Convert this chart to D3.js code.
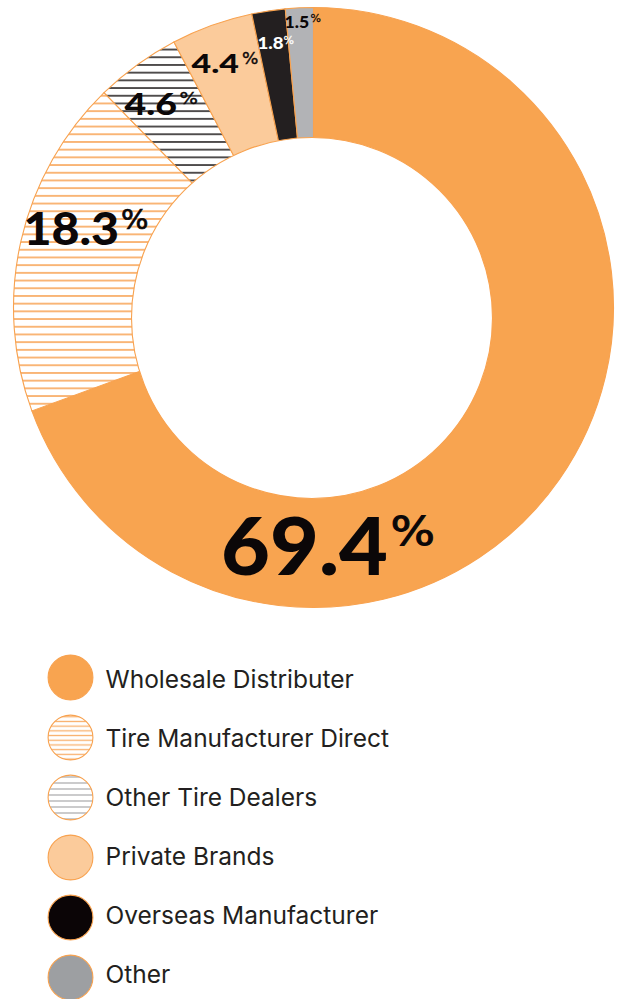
<!DOCTYPE html>
<html>
<head>
<meta charset="utf-8">
<script src="https://cdn.jsdelivr.net/npm/d3@7"></script>
<style>
  html, body { margin: 0; padding: 0; background: #fff; }
  svg { display: block; }
</style>
</head>
<body>
<svg id="chart" width="620" height="999"></svg>
<script>
// ---- data ----
const categories = ["Wholesale Distributer", "Tire Manufacturer Direct", "Other Tire Dealers", "Private Brands", "Overseas Manufacturer", "Other"];
const shares = [69.4, 18.3, 4.6, 4.4, 1.8, 1.5];
const valueLabels = ["69.4", "18.3", "4.6", "4.4", "1.8", "1.5"];

// ---- layout / style (not data) ----
const ORANGE = "#F8A24F";
const sliceFill = ["#F8A450", "url(#hatchOrange)", "url(#hatchBlack)", "#FBCB9B", "#231F20", "#B2B3B6"];
const legendFill = ["#F8A450", "url(#hatchOrangeLg)", "url(#hatchGrayLg)", "#FBCB9B", "#0B0506", "#9D9FA2"];
// number: [x, baseline, size, xscale]; percent: [x, baseline, size, xscale]; colour
const numLayout = [
  [221, 575, 80, 1.055],
  [23.5, 245, 46, 1.05],
  [124.5, 115, 29.5, 1.27],
  [191.5, 73, 26.5, 1.28],
  [257.5, 49, 17, 1.1],
  [284.5, 28, 16, 1.1]
];
const pctLayout = [
  [390.5, 545, 39, 1.2],
  [121, 229, 27, 1.07],
  [179.5, 104, 15.5, 1.25],
  [242, 64, 15, 1.15],
  [283.5, 43.5, 10.5, 1.05],
  [310.5, 22, 10.5, 1.05]
];
const labelColor = ["#0B0708", "#0B0708", "#0B0708", "#0B0708", "#FFFFFF", "#0B0708"];

const svg = d3.select("#chart");
const defs = svg.append("defs");
function hatch(id, gap, color, w) {
  const p = defs.append("pattern").attr("id", id)
    .attr("patternUnits", "userSpaceOnUse").attr("width", 10).attr("height", gap);
  p.append("rect").attr("width", 10).attr("height", gap).attr("fill", "#fff");
  p.append("line").attr("x1", 0).attr("x2", 10).attr("y1", gap / 2).attr("y2", gap / 2)
    .attr("stroke", color).attr("stroke-width", w);
}
hatch("hatchOrange", 7.7, "#F9B06C", 1.8);
hatch("hatchBlack", 7.7, "#2A2627", 1.6);
hatch("hatchOrangeLg", 4.7, "#F9B06C", 1.3);
hatch("hatchGrayLg", 6, "#B5B5B7", 1.4);

// ---- donut ----
const cx = 313.5, cy = 307.5, R = 300;
const pie = d3.pie().sort(null).value(d => d);
const arcs = pie(shares);
const arc = d3.arc().innerRadius(0).outerRadius(R);
const g = svg.append("g").attr("transform", `translate(${cx},${cy})`);
g.selectAll("path.slice").data(arcs).join("path")
  .attr("class", "slice")
  .attr("d", arc)
  .attr("fill", (d, i) => sliceFill[i])
  .attr("stroke", ORANGE)
  .attr("stroke-width", 1.1);

// hole (slightly lower than outer ring center, as in the reference)
svg.append("circle").attr("cx", 312).attr("cy", 318).attr("r", 180.5)
  .attr("fill", "#fff").attr("stroke", ORANGE).attr("stroke-width", 1.1);

// ---- value labels ----
const lab = svg.append("g");
valueLabels.forEach((v, i) => {
  const [nx, ny, ns, nsx] = numLayout[i];
  const [px, py, ps, psx] = pctLayout[i];
  lab.append("text")
    .attr("transform", `translate(${nx},${ny}) scale(${nsx},1)`)
    .attr("font-family", "Lato, 'Open Sans', sans-serif").attr("font-weight", 900)
    .attr("font-size", ns).attr("fill", labelColor[i]).text(v);
  lab.append("text")
    .attr("transform", `translate(${px},${py}) scale(${psx},1)`)
    .attr("font-family", "'DejaVu Sans', sans-serif").attr("font-weight", 400)
    .attr("font-size", ps).attr("fill", labelColor[i])
    .attr("stroke", labelColor[i]).attr("stroke-width", ps * 0.025)
    .text("%");
});

// ---- legend ----
const leg = svg.append("g");
const circY = d3.scalePoint().domain(categories).range([677.5, 977.5]);
const textY = d3.scalePoint().domain(categories).range([687.5, 983]);
const items = leg.selectAll("g").data(categories).join("g");
items.append("circle").attr("cx", 70.5).attr("cy", d => circY(d)).attr("r", 22.4)
  .attr("fill", (d, i) => legendFill[i]).attr("stroke", ORANGE).attr("stroke-width", 1.1);
items.append("text").attr("x", 105.5).attr("y", d => textY(d))
  .attr("font-family", "Inter, 'Open Sans', sans-serif").attr("font-size", 24.5)
  .attr("fill", "#231F20").text(d => d);
</script>
</body>
</html>
